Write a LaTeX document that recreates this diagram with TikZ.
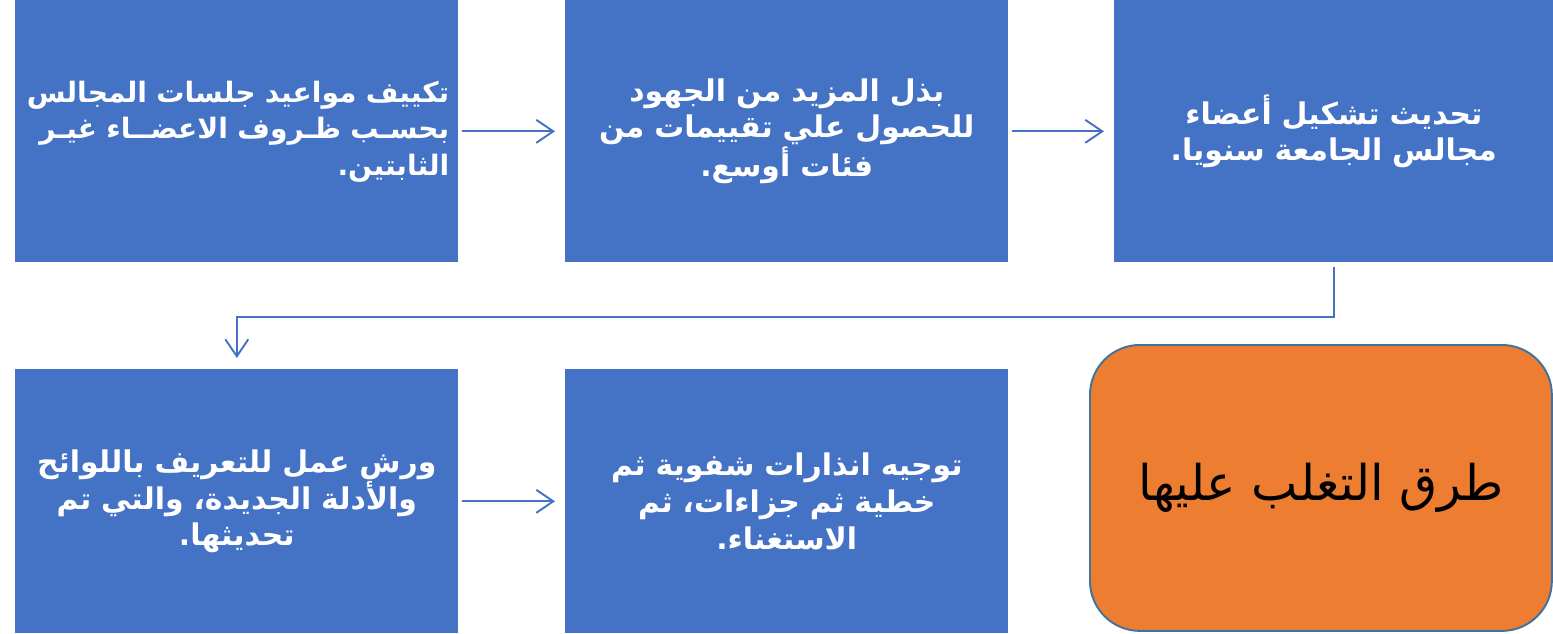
\documentclass[tikz,border=0pt]{standalone}
\usepackage{fontspec}
\usepackage{xcolor}
\usepackage{tikz}
\usetikzlibrary{positioning, arrows.meta}
\TeXXeTstate=1
\newfontfamily\arabicfont[Script=Arabic]{DejaVu Sans}
\definecolor{boxblue}{HTML}{4472C4}
\definecolor{boxorange}{HTML}{ED7D31}
\definecolor{edge}{HTML}{41719C}
\newcommand{\artext}[1]{\beginR#1\endR}

\begin{document}
\begin{tikzpicture}[x=0.02cm, y=-0.02cm,
  stepbox/.style={fill=boxblue, anchor=north west, inner sep=0pt,
    minimum width=8.86cm, minimum height=5.24cm, text width=8.1cm,
    align=center, text=white,
    font=\arabicfont\bfseries\fontsize{17}{20.8}\selectfont},
  goalbox/.style={fill=boxorange, draw=edge, line width=1.1pt,
    rounded corners=1cm, anchor=north west, inner sep=0pt,
    minimum width=9.24cm, minimum height=5.72cm, text=black,
    font=\arabicfont\fontsize{28}{32}\selectfont},
  flow/.style={draw=boxblue, line width=1.1pt,
    -{Straight Barb[length=0.34cm, width=0.46cm]}}]

  \useasboundingbox (0,0) rectangle (1553,633);

  % top row
  \node[stepbox, align=right, text width=8.5cm,
        font=\arabicfont\bfseries\fontsize{16}{20.8}\selectfont] (b1) at (15,0)
    {\artext{تكييف مواعيد جلسات المجالس}\\
     \artext{بحسـب ظـروف الاعضــاء غيـر}\\
     \artext{الثابتين.}};
  \node[stepbox] (b2) at (565,0)
    {\artext{بذل المزيد من الجهود}\\
     \artext{للحصول علي تقييمات من}\\
     \artext{فئات أوسع.}};
  \node[stepbox, minimum width=8.78cm] (b3) at (1114,0)
    {\artext{تحديث تشكيل أعضاء}\\
     \artext{مجالس الجامعة سنويا.}};

  % bottom row
  \node[stepbox, minimum height=5.28cm] (b4) at (15,369)
    {\artext{ورش عمل للتعريف باللوائح}\\
     \artext{والأدلة الجديدة، والتي تم}\\
     \artext{تحديثها.}};
  \node[stepbox, minimum height=5.28cm] (b5) at (565,369)
    {\artext{توجيه انذارات شفوية ثم}\\
     \artext{خطية ثم جزاءات، ثم}\\
     \artext{الاستغناء.}};
  \node[goalbox] (goal) at (1089,344) {\artext{طرق التغلب عليها}};

  \foreach \a/\b in {b1/b2, b2/b3, b4/b5}
    \draw[flow, shorten <=0.06cm, shorten >=0.2cm] (\a) -- (\b);
  \draw[flow, shorten <=0.08cm, shorten >=0.22cm]
    (b3.south) -- ++(0,54) -| (b4.north);
\end{tikzpicture}
\end{document}
